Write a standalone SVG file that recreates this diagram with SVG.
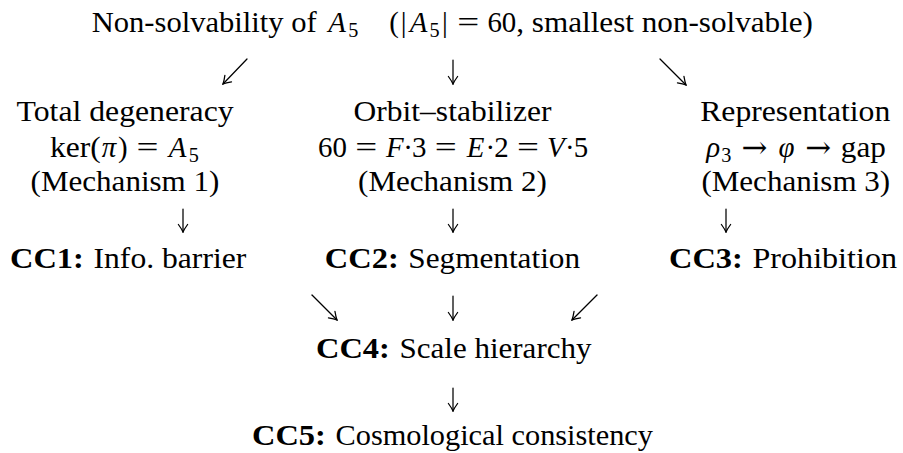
<svg xmlns="http://www.w3.org/2000/svg" width="903" height="453" viewBox="0 0 903 453">
<style>
text{font-family:"Liberation Serif","Times New Roman",serif;font-size:28.9px;fill:#000}
.i{font-style:italic}
.b{font-weight:bold}
.s{font-size:20.2px}
.m{text-anchor:middle}
.ar{font-family:"DejaVu Serif",serif;font-size:31px}
.c{fill:none;stroke:#000;stroke-width:1.25;stroke-linecap:round}
</style>
<defs>
<marker id="ah" markerUnits="userSpaceOnUse" viewBox="-9 -6 10 12" refX="0" refY="0" markerWidth="10" markerHeight="12" orient="auto">
<path d="M-7.5,-4.6 Q-2.8,-1.2 0,0 Q-2.8,1.2 -7.5,4.6" fill="none" stroke="#000" stroke-width="1.25" stroke-linecap="round"/>
</marker>
</defs>
<rect width="903" height="453" fill="#fff"/>
<g id="title">
<text x="91.7" y="32" textLength="225" lengthAdjust="spacingAndGlyphs">Non-solvability of</text>
<text class="i m" x="337.2" y="32">A</text>
<text class="s m" x="353.2" y="36.5">5</text>
<text class="m" x="394" y="32">(</text>
<text class="m" x="403.6" y="32">|</text>
<text class="i m" x="418.5" y="32">A</text>
<text class="s m" x="434.5" y="36.5">5</text>
<text class="m" x="444.8" y="32">|</text>
<text class="m" x="468.2" y="32" textLength="22" lengthAdjust="spacingAndGlyphs">=</text>
<text x="487.4" y="32" textLength="28.9" lengthAdjust="spacingAndGlyphs">60</text>
<text x="516.3" y="32" textLength="296.7" lengthAdjust="spacingAndGlyphs">, smallest non-solvable)</text>
</g>
<g id="mechanism1">
<text x="16.6" y="121" textLength="217" lengthAdjust="spacingAndGlyphs">Total degeneracy</text>
<text x="50" y="157" textLength="50.7" lengthAdjust="spacingAndGlyphs">ker(</text>
<text class="i m" x="109" y="157">π</text>
<text class="m" x="122.8" y="157">)</text>
<text class="m" x="147.6" y="157" textLength="22" lengthAdjust="spacingAndGlyphs">=</text>
<text class="i m" x="177.7" y="157">A</text>
<text class="s m" x="193.8" y="161.5">5</text>
<text x="30.6" y="191" textLength="188.8" lengthAdjust="spacingAndGlyphs">(Mechanism 1)</text>
</g>
<g id="mechanism2">
<text x="353.6" y="121" textLength="197.8" lengthAdjust="spacingAndGlyphs">Orbit–stabilizer</text>
<text x="318.1" y="157" textLength="28.9" lengthAdjust="spacingAndGlyphs">60</text>
<text class="m" x="366.2" y="157" textLength="22" lengthAdjust="spacingAndGlyphs">=</text>
<text class="i m" x="394.8" y="157">F</text>
<text class="m" x="408.1" y="157">·</text>
<text class="m" x="419.3" y="157">3</text>
<text class="m" x="445.8" y="157" textLength="22" lengthAdjust="spacingAndGlyphs">=</text>
<text class="i m" x="475.7" y="157">E</text>
<text class="m" x="490.4" y="157">·</text>
<text class="m" x="501.6" y="157">2</text>
<text class="m" x="528.1" y="157" textLength="22" lengthAdjust="spacingAndGlyphs">=</text>
<text class="i m" x="555.8" y="157">V</text>
<text class="m" x="569.7" y="157">·</text>
<text class="m" x="580.9" y="157">5</text>
<text x="358.1" y="191" textLength="188.8" lengthAdjust="spacingAndGlyphs">(Mechanism 2)</text>
</g>
<g id="mechanism3">
<text x="700.2" y="121" textLength="190.1" lengthAdjust="spacingAndGlyphs">Representation</text>
<text class="i m" x="713.1" y="157">ρ</text>
<text class="s m" x="726.3" y="161.5">3</text>
<text class="m ar" x="754.5" y="157.5">→</text>
<text class="i m" x="786.4" y="157">φ</text>
<text class="m ar" x="818.3" y="157.5">→</text>
<text x="840.8" y="157" textLength="45" lengthAdjust="spacingAndGlyphs">gap</text>
<text x="701.4" y="191" textLength="188.8" lengthAdjust="spacingAndGlyphs">(Mechanism 3)</text>
</g>
<g id="cc1">
<text class="b" x="10" y="268" textLength="73.9" lengthAdjust="spacingAndGlyphs">CC1:</text>
<text x="93.5" y="268" textLength="152.8" lengthAdjust="spacingAndGlyphs">Info. barrier</text>
</g>
<g id="cc2">
<text class="b" x="324.8" y="268" textLength="73.9" lengthAdjust="spacingAndGlyphs">CC2:</text>
<text x="408.3" y="268" textLength="171.8" lengthAdjust="spacingAndGlyphs">Segmentation</text>
</g>
<g id="cc3">
<text class="b" x="669" y="268" textLength="73.9" lengthAdjust="spacingAndGlyphs">CC3:</text>
<text x="752.5" y="268" textLength="144.5" lengthAdjust="spacingAndGlyphs">Prohibition</text>
</g>
<g id="cc4">
<text class="b" x="316" y="358" textLength="73.9" lengthAdjust="spacingAndGlyphs">CC4:</text>
<text x="399.5" y="358" textLength="192" lengthAdjust="spacingAndGlyphs">Scale hierarchy</text>
</g>
<g id="cc5">
<text class="b" x="252" y="445" textLength="73.9" lengthAdjust="spacingAndGlyphs">CC5:</text>
<text x="335.5" y="445" textLength="317.5" lengthAdjust="spacingAndGlyphs">Cosmological consistency</text>
</g>
<g id="connectors">
<path class="c" marker-end="url(#ah)" d="M247,59 L223,84"/>
<path class="c" marker-end="url(#ah)" d="M453,60 L453,84"/>
<path class="c" marker-end="url(#ah)" d="M660,59 L686,85"/>
<path class="c" marker-end="url(#ah)" d="M183,209 L183,232"/>
<path class="c" marker-end="url(#ah)" d="M453,209 L453,232"/>
<path class="c" marker-end="url(#ah)" d="M726,209 L726,232"/>
<path class="c" marker-end="url(#ah)" d="M312,295 L337,320"/>
<path class="c" marker-end="url(#ah)" d="M453,296 L453,320"/>
<path class="c" marker-end="url(#ah)" d="M597,295 L572,320"/>
<path class="c" marker-end="url(#ah)" d="M453,388 L453,411"/>
</g>
</svg>
